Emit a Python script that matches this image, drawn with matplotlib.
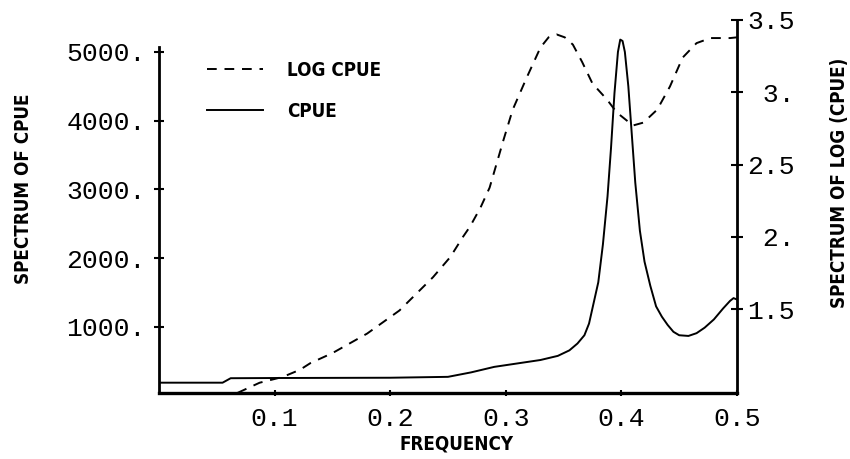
import matplotlib
matplotlib.use("Agg")
import matplotlib.pyplot as plt

# Spectrum of CPUE (left axis)
freq_cpue = [0.0, 0.055, 0.062, 0.10, 0.15, 0.20, 0.25, 0.27, 0.29, 0.31, 0.33,
             0.345, 0.355, 0.362, 0.368, 0.372, 0.376, 0.380, 0.384, 0.388,
             0.391, 0.394, 0.397, 0.399, 0.401, 0.403, 0.406, 0.409, 0.412,
             0.416, 0.420, 0.425, 0.430, 0.435, 0.440, 0.445, 0.450, 0.458,
             0.465, 0.472, 0.480, 0.488, 0.494, 0.497, 0.500]
spec_cpue = [190, 190, 255, 258, 260, 262, 275, 340, 420, 470, 520,
             580, 660, 760, 880, 1050, 1350, 1650, 2200, 2900,
             3600, 4400, 5000, 5180, 5160, 5000, 4500, 3800, 3100,
             2400, 1950, 1600, 1300, 1150, 1030, 930, 880, 870,
             910, 990, 1110, 1270, 1380, 1420, 1400]

# Spectrum of log(CPUE) (right axis)
freq_log = [0.068, 0.087, 0.107, 0.122, 0.131, 0.15, 0.18, 0.208, 0.237, 0.252,
            0.263, 0.269, 0.278, 0.286, 0.298, 0.306, 0.318, 0.33, 0.337,
            0.344, 0.351, 0.358, 0.366, 0.375, 0.3875, 0.396, 0.41, 0.419,
            0.431, 0.442, 0.453, 0.465, 0.477, 0.494, 0.5]
spec_log = [0.92, 0.99, 1.03, 1.08, 1.126, 1.195, 1.33, 1.49, 1.72, 1.86,
            2.0, 2.07, 2.20, 2.34, 2.67, 2.88, 3.10, 3.31, 3.38,
            3.40, 3.38, 3.33, 3.21, 3.06, 2.95, 2.86, 2.77, 2.79,
            2.88, 3.04, 3.24, 3.34, 3.375, 3.375, 3.38]

x_ticks = [0.1, 0.2, 0.3, 0.4, 0.5]
x_labels = ["0.1", "0.2", "0.3", "0.4", "0.5"]
left_ticks = [1000, 2000, 3000, 4000, 5000]
left_labels = ["1000.", "2000.", "3000.", "4000.", "5000."]
right_ticks = [1.5, 2.0, 2.5, 3.0, 3.5]
right_labels = ["1.5", " 2.", "2.5", " 3.", "3.5"]

label_font = dict(family=["DejaVu Sans"], stretch="condensed",
                  weight="bold", size=13.5)
tick_font = dict(family=["Liberation Mono", "DejaVu Sans Mono"], size=19)

W, H = 850, 459
fig = plt.figure(figsize=(W / 100, H / 100), dpi=100)
ax = fig.add_axes([159 / W, 1 - 393 / H, 578 / W, 373 / H])
ax2 = ax.twinx()

ln_cpue, = ax.plot(freq_cpue, spec_cpue, color="black", lw=1.4,
                   solid_joinstyle="round")
ln_log, = ax2.plot(freq_log, spec_log, color="black", lw=1.4,
                   linestyle=(0, (5.0, 4.0)))

ax.set_xlim(0.0, 0.5)
ax.set_ylim(40, 5465)
ax2.set_ylim(0.919, 3.5)

for a in (ax, ax2):
    a.spines["top"].set_visible(False)
ax.spines["right"].set_visible(False)
ax2.spines["left"].set_visible(False)
ax2.spines["bottom"].set_visible(False)
ax.spines["left"].set_linewidth(2.0)
ax.spines["bottom"].set_linewidth(2.4)
ax2.spines["right"].set_linewidth(2.0)
ax.spines["left"].set_bounds(40, 5073)

ax.set_xticks(x_ticks)
ax.set_xticklabels(x_labels, **tick_font)
ax.set_yticks(left_ticks)
ax.set_yticklabels(left_labels, **tick_font)
ax2.set_yticks(right_ticks)
ax2.set_yticklabels(right_labels, **tick_font)
for t in ax2.get_yticklabels():
    t.set_horizontalalignment("left")

ax.tick_params(axis="x", direction="inout", length=4, width=1.5, pad=8.0)
ax.tick_params(axis="y", direction="inout", length=7, width=1.5, pad=6.0)
ax2.tick_params(axis="y", direction="inout", length=8, width=1.5, pad=3.2)

fig.text(24 / W, 1 - 189 / H, "SPECTRUM OF CPUE", rotation=90,
         ha="center", va="center", **label_font)
fig.text(839 / W, 1 - 183 / H, "SPECTRUM OF LOG (CPUE)", rotation=90,
         ha="center", va="center", **label_font)
fig.text(457 / W, 1 - 444 / H, "FREQUENCY", ha="center", va="center",
         **label_font)

leg = ax.legend([ln_log, ln_cpue], ["LOG CPUE", "CPUE"],
                loc="upper left", bbox_to_anchor=(207 / W, 1 - 61 / H),
                bbox_transform=fig.transFigure, frameon=False,
                borderpad=0, borderaxespad=0, handlelength=3.0,
                handletextpad=1.25, labelspacing=1.15,
                prop=dict(family=["DejaVu Sans"], stretch="condensed",
                          weight="bold", size=13.5))

fig.savefig("out.png", dpi=100)
